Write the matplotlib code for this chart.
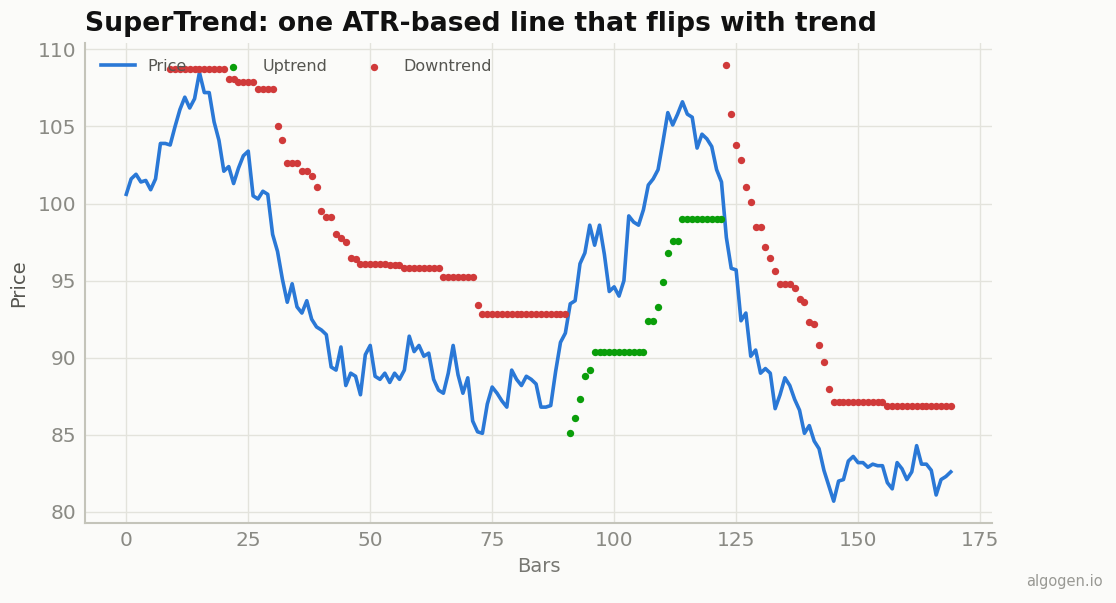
import numpy as np
import matplotlib
matplotlib.use("Agg")
import matplotlib.pyplot as plt

price = [
    100.6, 101.6, 101.9, 101.4, 101.5, 100.9, 101.6, 103.9, 103.9, 103.8,
    105.0, 106.1, 106.9, 106.2, 106.8, 108.5, 107.2, 107.2, 105.3, 104.1,
    102.1, 102.4, 101.3, 102.3, 103.1, 103.4, 100.5, 100.3, 100.8, 100.6,
    98.0, 96.9, 95.1, 93.6, 94.8, 93.3, 92.9, 93.7, 92.5, 92.0,
    91.8, 91.5, 89.4, 89.2, 90.7, 88.2, 89.0, 88.8, 87.6, 90.2,
    90.8, 88.8, 88.6, 89.0, 88.4, 89.0, 88.6, 89.2, 91.4, 90.4,
    90.8, 90.1, 90.3, 88.6, 87.9, 87.7, 89.0, 90.8, 88.9, 87.7,
    88.7, 85.9, 85.2, 85.1, 87.0, 88.1, 87.7, 87.2, 86.8, 89.2,
    88.6, 88.2, 88.8, 88.6, 88.3, 86.8, 86.8, 86.9, 89.1, 91.0,
    91.6, 93.5, 93.7, 96.1, 96.8, 98.6, 97.3, 98.6, 96.7, 94.3,
    94.6, 94.0, 95.0, 99.2, 98.8, 98.6, 99.6, 101.2, 101.6, 102.2,
    104.0, 105.9, 105.1, 105.8, 106.6, 105.8, 105.6, 103.6, 104.5, 104.2,
    103.7, 102.2, 101.4, 97.8, 95.8, 95.7, 92.4, 92.9, 90.1, 90.5,
    89.0, 89.3, 89.0, 86.7, 87.6, 88.7, 88.2, 87.3, 86.6, 85.1,
    85.6, 84.6, 84.1, 82.7, 81.7, 80.7, 82.0, 82.1, 83.3, 83.6,
    83.2, 83.2, 82.9, 83.1, 83.0, 83.0, 81.9, 81.5, 83.2, 82.8,
    82.1, 82.6, 84.3, 83.1, 83.1, 82.7, 81.1, 82.1, 82.3, 82.6,
]

up_bars = list(range(91, 123))
up_vals = [85.1, 86.1, 87.3, 88.8, 89.2,
           90.4, 90.4, 90.4, 90.4, 90.4, 90.4, 90.4, 90.4, 90.4, 90.4, 90.4,
           92.4, 92.4, 93.3, 94.9, 96.8, 97.6, 97.6,
           99.0, 99.0, 99.0, 99.0, 99.0, 99.0, 99.0, 99.0, 99.0]

down_bars = list(range(9, 91)) + list(range(123, 170))
down_vals = (
    [108.7] * 12 +                      # 9-20
    [108.1, 108.1] +                    # 21-22
    [107.9] * 4 +                       # 23-26
    [107.4] * 4 +                       # 27-30
    [105.0, 104.1] +                    # 31-32
    [102.6] * 3 +                       # 33-35
    [102.1, 102.1, 101.8, 101.1, 99.5, 99.1, 99.1, 98.0, 97.8, 97.5,
     96.5, 96.4] +                      # 36-47
    [96.1] * 6 +                        # 48-53
    [96.0] * 3 +                        # 54-56
    [95.8] * 8 +                        # 57-64
    [95.25] * 7 +                       # 65-71
    [93.4] +                            # 72
    [92.85] * 18 +                      # 73-90
    [109.0, 105.8, 103.8, 102.8, 101.1, 100.1, 98.5, 98.5, 97.2, 96.5,
     95.6, 94.8, 94.8, 94.8, 94.5, 93.8, 93.6, 92.3, 92.2, 90.8,
     89.7, 88.0] +                      # 123-144
    [87.1] * 11 +                       # 145-155
    [86.9] * 14                         # 156-169
)

bars = np.arange(len(price))

BG = "#fbfbf9"
GRID = "#e3e3dc"
SPINE = "#c4c4ba"
TICK = "#8a8a84"

fig = plt.figure(figsize=(11.16, 6.03), dpi=100, facecolor=BG)
ax = fig.add_axes([0.0762, 0.1327, 0.8127, 0.796])
ax.set_facecolor(BG)

ax.plot(bars, price, color="#2a78d6", lw=2.6, label="Price", zorder=3)
ax.scatter(up_bars, up_vals, s=28, color="#0a9e0a", label="Uptrend", zorder=4, linewidths=0)
ax.scatter(down_bars, down_vals, s=28, color="#d03a3a", label="Downtrend", zorder=4, linewidths=0)

ax.set_xticks([0, 25, 50, 75, 100, 125, 150, 175])
ax.set_yticks([80, 85, 90, 95, 100, 105, 110])
ax.grid(True, color=GRID, lw=1.0, zorder=0)
ax.set_axisbelow(True)
for s in ["top", "right"]:
    ax.spines[s].set_visible(False)
for s in ["left", "bottom"]:
    ax.spines[s].set_color(SPINE)
    ax.spines[s].set_linewidth(1.5)
ax.tick_params(length=0, labelsize=14.5, labelcolor=TICK, pad=6)
ax.set_xlabel("Bars", fontsize=14, color="#777772", labelpad=5)
ax.set_ylabel("Price", fontsize=14, color="#555550", labelpad=7)

leg = ax.legend(loc="upper left", ncol=3, frameon=False, fontsize=11.5,
                handlelength=2.1, columnspacing=1.85, scatterpoints=1,
                borderaxespad=0.6)
for t in leg.get_texts():
    t.set_color("#555550")

fig.text(0.0762, 0.96, "SuperTrend: one ATR-based line that flips with trend",
         fontsize=19.2, fontweight="bold", ha="left", va="center", color="#111111")
fig.text(0.988, 0.035, "algogen.io", fontsize=10.5, color="#999994", ha="right", va="center")

fig.savefig("out.png", dpi=100, facecolor=BG)
